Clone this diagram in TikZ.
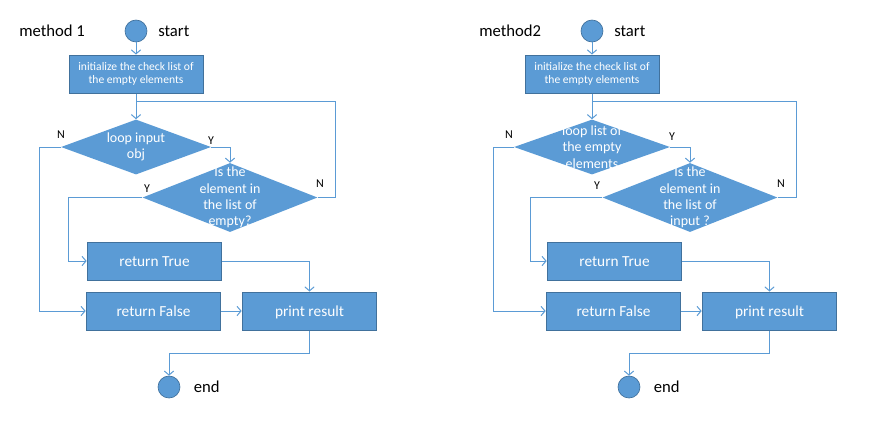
\documentclass[tikz,border=0pt]{standalone}
\usepackage{fontspec}
\setmainfont{Carlito}
\usetikzlibrary{arrows.meta, positioning, shapes.geometric}
\definecolor{boxblue}{RGB}{91,155,213}
\definecolor{rimblue}{RGB}{65,113,156}
\definecolor{lineblue}{RGB}{91,155,213}

\begin{document}
\begin{tikzpicture}[
  x=0.75pt, y=-0.75pt,
  terminal/.style={circle, fill=boxblue, draw=rimblue, line width=0.5pt, minimum size=16.5pt, inner sep=0pt},
  process/.style={rectangle, fill=boxblue, draw=rimblue, line width=0.75pt, minimum width=101pt, minimum height=28.5pt, inner sep=0pt, text=white, text height=2ex, text depth=0.25ex, font=\fontsize{11.5}{13}\selectfont},
  initbox/.style={rectangle, fill=boxblue, draw=rimblue, line width=0.75pt, minimum width=100.5pt, minimum height=28.5pt, inner sep=0pt, text=white, align=center, font=\fontsize{8.7}{10.3}\selectfont},
  decision/.style={diamond, fill=boxblue, draw=none, inner sep=0pt},
  dtext/.style={text=white, align=center, font=\fontsize{10.5}{12.2}\selectfont},
  caption/.style={font=\fontsize{12.5}{14}\selectfont, inner sep=0pt},
  flag/.style={font=\fontsize{9}{10}\selectfont, inner sep=0pt},
  line/.style={draw=lineblue, line width=0.75pt, -{Straight Barb[length=3pt, width=7pt]}},
  link/.style={draw=lineblue, line width=0.75pt}
]
\useasboundingbox (0,0) rectangle (875,430);

% method 1
\node[caption, anchor=west] (m1title) at (19,31) {method 1};
\node[terminal] (m1start) at (136,31) {};
\node[caption, right=8pt of m1start] (m1starttext) {start};
\node[initbox] (m1init) at (136,74) {initialize the check list of\\the empty elements};
\node[decision, minimum width=112.5pt, minimum height=41.25pt] (m1loop) at (136,147) {};
\node[dtext] (m1looptext) at (m1loop) {loop input\\obj};
\node[decision, minimum width=131.25pt, minimum height=51.75pt] (m1check) at (230,197.5) {};
\node[dtext] (m1checktext) at (m1check) {Is the\\element in\\the list of\\empty?};
\node[process] (m1true) at (154.5,261) {return True};
\node[process] (m1false) at (153.5,311) {return False};
\node[process] (m1print) at (309.5,311) {print result};
\node[terminal] (m1end) at (169,387) {};
\node[caption, right=10pt of m1end] (m1endtext) {end};

\node[flag] (m1loopy) at (211,141) {Y};
\node[flag] (m1loopn) at (61,135) {N};
\node[flag] (m1checky) at (147,189) {Y};
\node[flag] (m1checkn) at (320,184) {N};

\coordinate (m1join) at (136,101);
\coordinate (m1back) at (335,101);
\coordinate (m1yes) at (68,197.5);
\coordinate (m1no) at (39,147);
\coordinate (m1turn) at (169,353);

\draw[line] (m1start) -- (m1init);
\draw[line] (m1init) -- (m1loop);
\draw[link] (m1check.east) -| (m1back) -- (m1join);
\draw[line] (m1loop.east) -| (m1check.north);
\draw[line] (m1check.west) -- (m1yes) |- (m1true.west);
\draw[line] (m1loop.west) -- (m1no) |- (m1false.west);
\draw[line] (m1true.east) -| (m1print.north);
\draw[line] (m1false) -- (m1print);
\draw[line] (m1print.south) |- (m1turn) -- (m1end.north);

% method 2
\node[caption, anchor=west] (m2title) at (479,31) {method2};
\node[terminal] (m2start) at (592,31) {};
\node[caption, right=8pt of m2start] (m2starttext) {start};
\node[initbox] (m2init) at (592,74) {initialize the check list of\\the empty elements};
\node[decision, minimum width=117pt, minimum height=41.25pt] (m2loop) at (592,147) {};
\node[dtext] (m2looptext) at (m2loop) {loop list of\\the empty\\elements};
\node[decision, minimum width=131.25pt, minimum height=51.75pt] (m2check) at (690,197.5) {};
\node[dtext] (m2checktext) at (m2check) {Is the\\element in\\the list of\\input ?};
\node[process] (m2true) at (614.5,261) {return True};
\node[process] (m2false) at (613.5,311) {return False};
\node[process] (m2print) at (769.5,311) {print result};
\node[terminal] (m2end) at (629,387) {};
\node[caption, right=10pt of m2end] (m2endtext) {end};

\node[flag] (m2loopy) at (672,137) {Y};
\node[flag] (m2loopn) at (509,135) {N};
\node[flag] (m2checky) at (597,186) {Y};
\node[flag] (m2checkn) at (781,184) {N};

\coordinate (m2join) at (592,101);
\coordinate (m2back) at (796,101);
\coordinate (m2yes) at (530,197.5);
\coordinate (m2no) at (493,147);
\coordinate (m2turn) at (629,353);

\draw[line] (m2start) -- (m2init);
\draw[line] (m2init) -- (m2loop);
\draw[link] (m2check.east) -| (m2back) -- (m2join);
\draw[line] (m2loop.east) -| (m2check.north);
\draw[line] (m2check.west) -- (m2yes) |- (m2true.west);
\draw[line] (m2loop.west) -- (m2no) |- (m2false.west);
\draw[line] (m2true.east) -| (m2print.north);
\draw[line] (m2false) -- (m2print);
\draw[line] (m2print.south) |- (m2turn) -- (m2end.north);
\end{tikzpicture}
\end{document}
